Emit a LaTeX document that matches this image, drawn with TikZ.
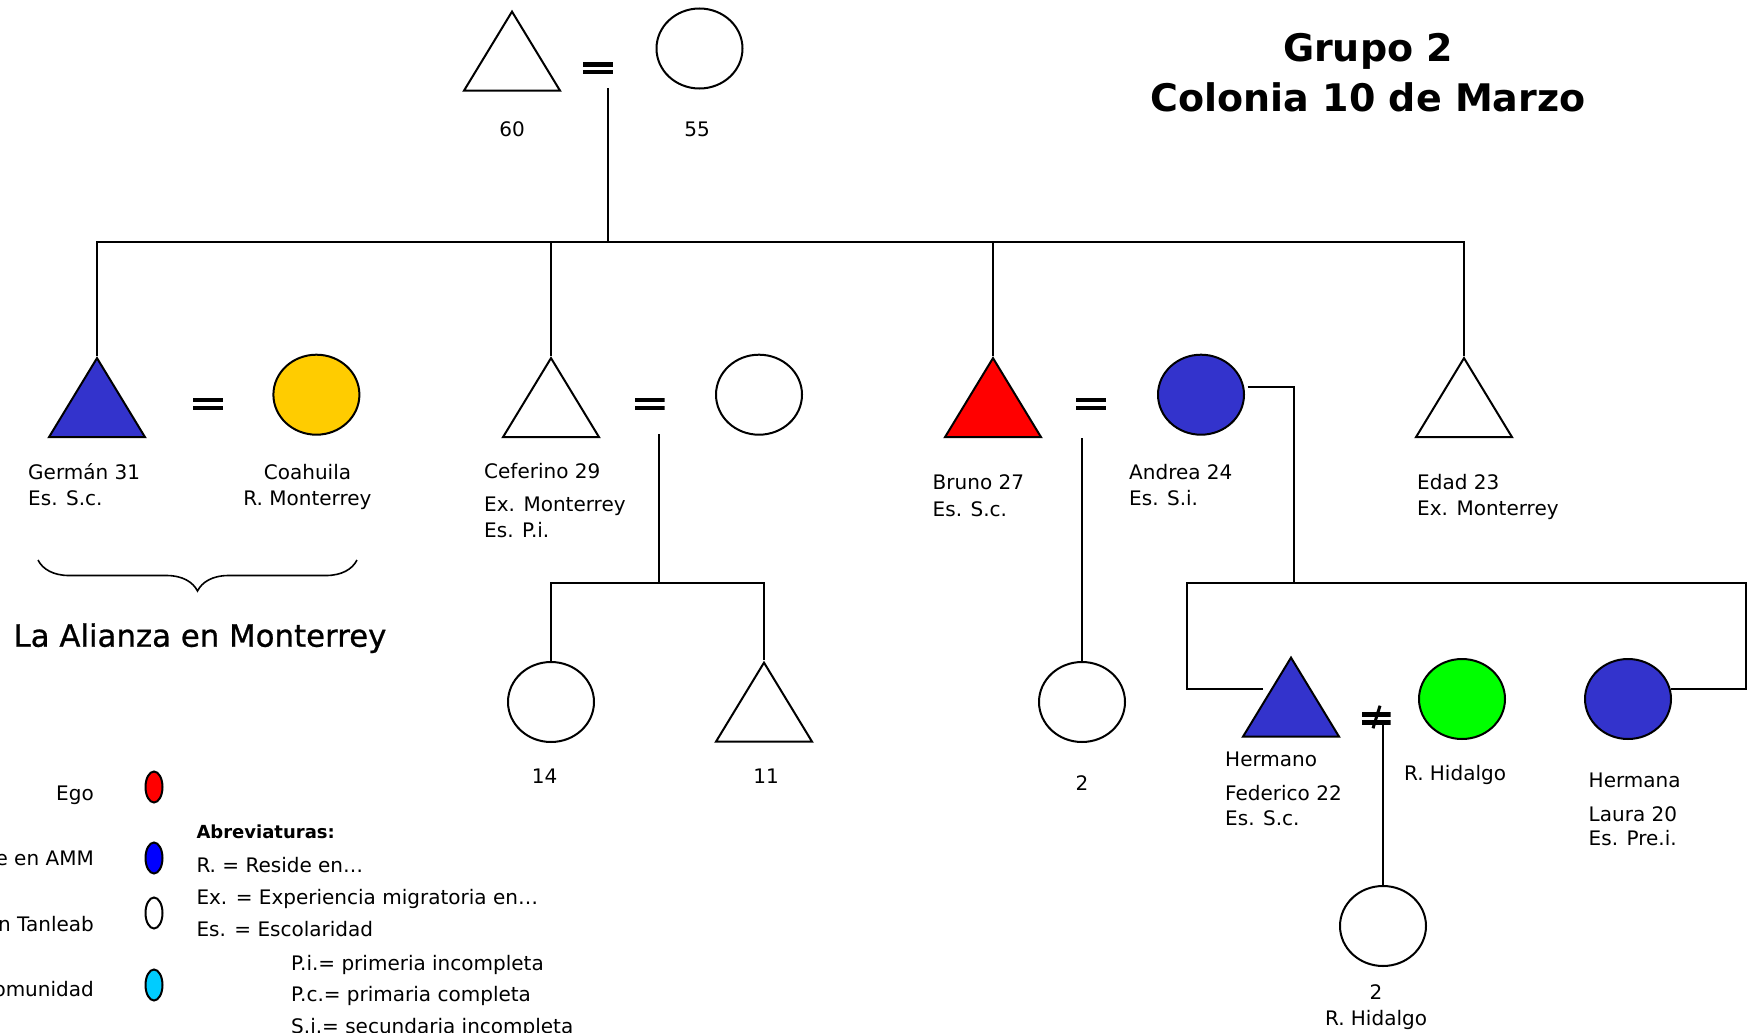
\documentclass[tikz,border=0pt]{standalone}
\usepackage{fontspec}
\setmainfont{DejaVu Sans}
\usetikzlibrary{shapes.geometric,decorations.pathreplacing}
\definecolor{pblue}{HTML}{3333CC}
\definecolor{pred}{HTML}{FF0000}
\definecolor{pyellow}{HTML}{FFCC00}
\definecolor{pgreen}{HTML}{00FF00}
\definecolor{lblue}{HTML}{0000FF}
\definecolor{lcyan}{HTML}{00CCFF}
\tikzset{
  male/.style={isosceles triangle, isosceles triangle stretches, shape border rotate=90,
    minimum width=96pt, minimum height=79pt, inner sep=0pt, draw, line width=2pt, fill=white, anchor=apex},
  female/.style={ellipse, minimum width=86pt, minimum height=80pt, inner sep=0pt, draw, line width=2pt, fill=white},
  legdot/.style={ellipse, minimum width=17pt, minimum height=31pt, inner sep=0pt, draw, line width=2pt},
  link/.style={line width=2pt},
  lbl/.style={font=\fontsize{20}{26.5}\selectfont, inner sep=0pt},
  lblL/.style={lbl, anchor=base west},
  lblC/.style={lbl, anchor=base},
  lblR/.style={lbl, anchor=base east},
  eqsign/.style={inner sep=0pt, minimum width=30pt, minimum height=12pt, path picture={
    \fill ([yshift=-4.3pt]path picture bounding box.north west) rectangle (path picture bounding box.north east);
    \fill (path picture bounding box.south west) rectangle ([yshift=4.3pt]path picture bounding box.south east);}},
  neqsign/.style={inner sep=0pt, minimum width=29pt, minimum height=26pt, path picture={
    \fill ([shift={(-14.5pt,1.6pt)}]path picture bounding box.center) rectangle ([shift={(14.5pt,6pt)}]path picture bounding box.center);
    \fill ([shift={(-14.5pt,-1.6pt)}]path picture bounding box.center) rectangle ([shift={(14.5pt,-6.4pt)}]path picture bounding box.center);
    \draw[line width=3pt] ([shift={(4pt,12.6pt)}]path picture bounding box.center) -- ([shift={(-3pt,-10pt)}]path picture bounding box.center);}}
}
\begin{document}
\begin{tikzpicture}[x=1pt,y=-1pt]
\useasboundingbox (0,0) rectangle (1753,1033);
\clip (0,0) rectangle (1753,1033);
\fill[white] (0,0) rectangle (1753,1033);

% title
\node[font=\bfseries\fontsize{38}{50}\selectfont, inner sep=0pt, anchor=base] (title1) at (1368,61.7) {Grupo 2};
\node[font=\bfseries\fontsize{38}{50}\selectfont, inner sep=0pt, anchor=base] (title2) at (1368,111.7) {Colonia 10 de Marzo};

% generation I
\node[male] (gf) at (512,9) {};
\node[female] (gm) at (699.5,48.5) {};
\node[eqsign] (eq0) at (598,68.3) {};
\node[lblC] (gfl) at (512,136.7) {60};
\node[lblC] (gml) at (697,136.7) {55};
\coordinate (eq0d) at (608,88);
\coordinate (sib) at (608,241.5);

% generation II
\node[male, fill=pblue] (german) at (97,355.5) {};
\node[eqsign] (eq1) at (208,404) {};
\node[female, fill=pyellow] (coah) at (316.4,394.7) {};
\node[male] (cef) at (551,355.5) {};
\node[eqsign] (eq2) at (649.6,404) {};
\node[female] (cefw) at (759,394.7) {};
\node[male, fill=pred] (bruno) at (993,355.5) {};
\node[eqsign] (eq3) at (1091,404) {};
\node[female, fill=pblue] (andrea) at (1201,394.7) {};
\node[male] (edad) at (1464,355.5) {};

\draw[link] (eq0d) -- (sib);
\draw[link] (german.apex) -- (german.apex |- sib) -- (edad.apex |- sib) -- (edad.apex);
\draw[link] (cef.apex) -- (cef.apex |- sib);
\draw[link] (bruno.apex) -- (bruno.apex |- sib);

% labels generation II
\node[lblL] (germl1) at (28,479) {Germán 31};
\node[lblL] (germl2) at (28,505.5) {Es. S.c.};
\node[lblC] (coahl1) at (307.5,479) {Coahuila};
\node[lblC] (coahl2) at (307.5,505.5) {R. Monterrey};
\node[lblL] (cefl1) at (484,478.5) {Ceferino 29};
\node[lblL] (cefl2) at (484,511.5) {Ex. Monterrey};
\node[lblL] (cefl3) at (484,537.5) {Es. P.i.};
\node[lblL] (brul1) at (932.5,489.3) {Bruno 27};
\node[lblL] (brul2) at (932.5,516) {Es. S.c.};
\node[lblL] (andl1) at (1129,479) {Andrea 24};
\node[lblL] (andl2) at (1129,505) {Es. S.i.};
\node[lblL] (edal1) at (1417,489.3) {Edad 23};
\node[lblL] (edal2) at (1417,515.7) {Ex. Monterrey};

% brace
\draw[line width=1.6pt, decorate, decoration={brace, amplitude=31pt}] (357,560) -- (38,560);
\node[font=\fontsize{30.8}{36}\selectfont\addfontfeature{FakeBold=0.8}, inner sep=0pt, anchor=base west] (alianza) at (13.4,646.7) {La Alianza en Monterrey};

% Ceferino's children
\coordinate (cefd) at (658.5,434);
\coordinate (cefbar) at (658.5,582.5);
\node[female] (k14) at (551,702) {};
\node[male] (k11) at (764,660) {};
\draw[link] (cefd) -- (cefbar);
\draw[link] (k14.north) -- (k14.north |- cefbar) -- (k11.apex |- cefbar) -- (k11.apex);
\node[lblC] (k14l) at (544.5,783.3) {14};
\node[lblC] (k11l) at (766,783.3) {11};

% Bruno's child
\node[female] (k2) at (1082,702) {};
\coordinate (brd) at (1082,438);
\draw[link] (brd) -- (k2.north);
\node[lblC] (k2l) at (1082,790) {2};

% Andrea's siblings
\coordinate (and1) at (1247.5,387);
\coordinate (andbar) at (1293.5,582.5);
\coordinate (barL) at (1187,582.5);
\coordinate (barR) at (1746,582.5);
\coordinate (fedL) at (1263,689);
\coordinate (lauR) at (1671,689);
\node[male, fill=pblue] (fed) at (1291,655) {};
\node[neqsign] (neq) at (1376,718.3) {};
\node[female, fill=pgreen] (fedw) at (1462,699) {};
\node[female, fill=pblue] (laura) at (1628,699) {};
\node[female] (gk) at (1383,926) {};
\coordinate (neqd) at (1384,725);
\draw[link] (and1) -| (andbar);
\draw[link] (fedL) -| (barL) -- (barR) |- (lauR);
\draw[link] (gk.north) -- (gk.north |- neqd);

\node[lblL] (fedl1) at (1225,766.7) {Hermano};
\node[lblL] (fedl2) at (1225,800) {Federico 22};
\node[lblL] (fedl3) at (1225,825.7) {Es. S.c.};
\node[lblC] (fedwl) at (1455,780) {R. Hidalgo};
\node[lblL] (laul1) at (1588.5,787.3) {Hermana};
\node[lblL] (laul2) at (1588.5,821) {Laura 20};
\node[lblL] (laul3) at (1588.5,845.7) {Es. Pre.i.};
\node[lblC] (gkl1) at (1376,999.3) {2};
\node[lblC] (gkl2) at (1376,1025.7) {R. Hidalgo};

% legend
\node[legdot, fill=pred] (lg1) at (154,787) {};
\node[legdot, fill=lblue] (lg2) at (154,858) {};
\node[legdot, fill=white] (lg3) at (154,913) {};
\node[legdot, fill=lcyan] (lg4) at (154,985) {};
\node[lblR] (lgl1) at (94,800) {Ego};
\node[lblR] (lgl2) at (94,865) {e en AMM};
\node[lblR] (lgl3) at (94,931) {n Tanleab};
\node[lblR] (lgl4) at (94,996) {omunidad};

\node[font=\bfseries\fontsize{18}{20}\selectfont, inner sep=0pt, anchor=base west] (abr) at (196.3,838.7) {Abreviaturas:};
\node[lblL] (abr1) at (196.3,872) {R. = Reside en…};
\node[lblL] (abr2) at (196.3,904) {Ex. = Experiencia migratoria en…};
\node[lblL] (abr3) at (196.3,936.7) {Es. = Escolaridad};
\node[lblL] (abr4) at (291,970) {P.i.= primeria incompleta};
\node[lblL] (abr5) at (291,1001.7) {P.c.= primaria completa};
\node[lblL] (abr6) at (291,1033.5) {S.i.= secundaria incompleta};
\end{tikzpicture}
\end{document}
